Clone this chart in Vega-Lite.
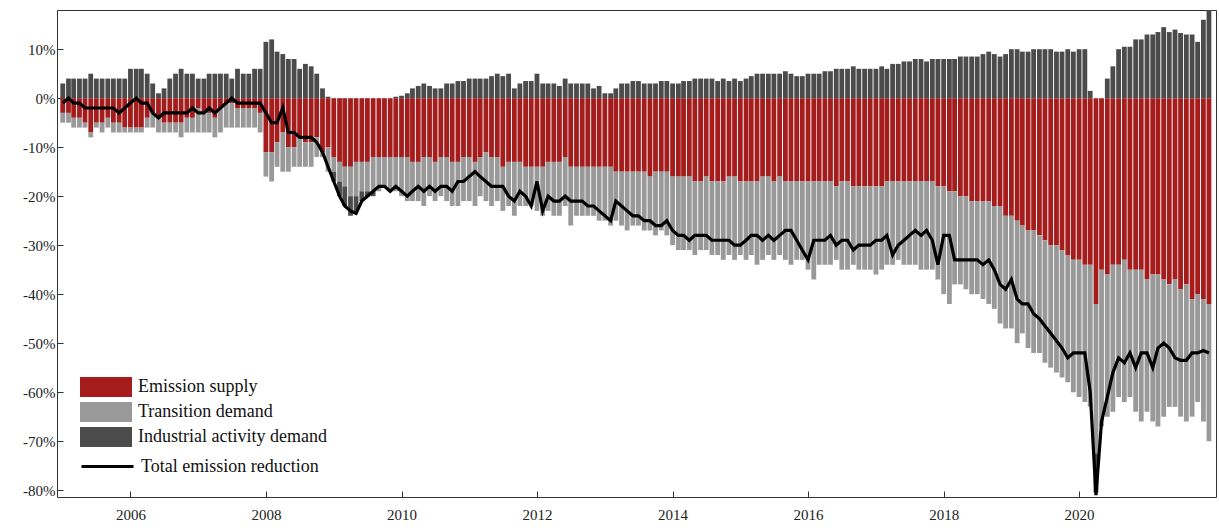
{"$schema":"https://vega.github.io/schema/vega-lite/v6.json","width":1159,"height":487,"autosize":{"type":"none"},"padding":{"left":57,"top":10,"right":3,"bottom":33},"config":{"font":"Liberation Serif","view":{"stroke":"#333","strokeWidth":1}},
"data":{"values":[
{"date":"2005-01-01","e1":-3,"e2":-2,"e3":3,"total":-1},{"date":"2005-02-01","e1":-3,"e2":-2,"e3":4,"total":0},{"date":"2005-03-01","e1":-4,"e2":-2,"e3":4,"total":-1},{"date":"2005-04-01","e1":-4,"e2":-2,"e3":4,"total":-1},{"date":"2005-05-01","e1":-5,"e2":-1,"e3":4,"total":-2},{"date":"2005-06-01","e1":-7,"e2":-1,"e3":5,"total":-2},{"date":"2005-07-01","e1":-5,"e2":-1,"e3":4,"total":-2},{"date":"2005-08-01","e1":-5,"e2":-2,"e3":4,"total":-2},{"date":"2005-09-01","e1":-4,"e2":-2,"e3":4,"total":-2},{"date":"2005-10-01","e1":-5,"e2":-2,"e3":4,"total":-2},{"date":"2005-11-01","e1":-5,"e2":-2,"e3":4,"total":-3},{"date":"2005-12-01","e1":-6,"e2":-1,"e3":4,"total":-2},
{"date":"2006-01-01","e1":-6,"e2":-1,"e3":6,"total":-1},{"date":"2006-02-01","e1":-6,"e2":-1,"e3":6,"total":0},{"date":"2006-03-01","e1":-6,"e2":-1,"e3":6,"total":-1},{"date":"2006-04-01","e1":-4,"e2":-2,"e3":5,"total":-1},{"date":"2006-05-01","e1":-3,"e2":-3,"e3":3,"total":-3},{"date":"2006-06-01","e1":-4,"e2":-3,"e3":1,"total":-4},{"date":"2006-07-01","e1":-5,"e2":-2,"e3":2,"total":-3},{"date":"2006-08-01","e1":-5,"e2":-2,"e3":4,"total":-3},{"date":"2006-09-01","e1":-5,"e2":-2,"e3":5,"total":-3},{"date":"2006-10-01","e1":-5,"e2":-3,"e3":6,"total":-3},{"date":"2006-11-01","e1":-4,"e2":-3,"e3":5,"total":-3},{"date":"2006-12-01","e1":-4,"e2":-3,"e3":5,"total":-2},
{"date":"2007-01-01","e1":-2,"e2":-5,"e3":4,"total":-3},{"date":"2007-02-01","e1":-3,"e2":-4,"e3":4,"total":-3},{"date":"2007-03-01","e1":-3,"e2":-4,"e3":5,"total":-2},{"date":"2007-04-01","e1":-4,"e2":-4,"e3":5,"total":-3},{"date":"2007-05-01","e1":-2,"e2":-5,"e3":5,"total":-2},{"date":"2007-06-01","e1":-1,"e2":-5,"e3":5,"total":-1},{"date":"2007-07-01","e1":-1,"e2":-5,"e3":4,"total":0},{"date":"2007-08-01","e1":-2,"e2":-4,"e3":6,"total":-1},{"date":"2007-09-01","e1":-2,"e2":-4,"e3":5,"total":-1},{"date":"2007-10-01","e1":-2,"e2":-4,"e3":5,"total":-1},{"date":"2007-11-01","e1":-2,"e2":-4,"e3":6,"total":-1},{"date":"2007-12-01","e1":-3,"e2":-4,"e3":6,"total":-1},
{"date":"2008-01-01","e1":-11,"e2":-5,"e3":11.5,"total":-3},{"date":"2008-02-01","e1":-11,"e2":-6,"e3":12,"total":-5},{"date":"2008-03-01","e1":-9,"e2":-5,"e3":9.5,"total":-5},{"date":"2008-04-01","e1":-7,"e2":-8,"e3":9,"total":-2},{"date":"2008-05-01","e1":-10,"e2":-5,"e3":8,"total":-7},{"date":"2008-06-01","e1":-10,"e2":-4,"e3":8,"total":-7},{"date":"2008-07-01","e1":-8,"e2":-6,"e3":6,"total":-8},{"date":"2008-08-01","e1":-9,"e2":-5,"e3":7,"total":-8},{"date":"2008-09-01","e1":-9,"e2":-5,"e3":6.5,"total":-8},{"date":"2008-10-01","e1":-8,"e2":-4,"e3":5,"total":-9},{"date":"2008-11-01","e1":-11,"e2":-1,"e3":2,"total":-11},{"date":"2008-12-01","e1":-10,"e2":-5,"e3":0.3,"total":-14},
{"date":"2009-01-01","e1":-12,"e2":-3,"e3":-2,"total":-17},{"date":"2009-02-01","e1":-13,"e2":-4,"e3":-3,"total":-20},{"date":"2009-03-01","e1":-14,"e2":-4,"e3":-4,"total":-22},{"date":"2009-04-01","e1":-14,"e2":-6,"e3":-4,"total":-23},{"date":"2009-05-01","e1":-13,"e2":-7,"e3":-3,"total":-23.5},{"date":"2009-06-01","e1":-13,"e2":-6,"e3":-2,"total":-21},{"date":"2009-07-01","e1":-13,"e2":-6,"e3":-1,"total":-20},{"date":"2009-08-01","e1":-12,"e2":-7,"e3":-1,"total":-19},{"date":"2009-09-01","e1":-12,"e2":-7,"e3":0,"total":-18},{"date":"2009-10-01","e1":-12,"e2":-6,"e3":0,"total":-18},{"date":"2009-11-01","e1":-12,"e2":-7,"e3":0,"total":-19},{"date":"2009-12-01","e1":-12,"e2":-7,"e3":0.3,"total":-18},
{"date":"2010-01-01","e1":-12,"e2":-8,"e3":0.5,"total":-19},{"date":"2010-02-01","e1":-12,"e2":-9,"e3":1,"total":-20},{"date":"2010-03-01","e1":-13,"e2":-8,"e3":2,"total":-19},{"date":"2010-04-01","e1":-13,"e2":-8,"e3":2.5,"total":-18},{"date":"2010-05-01","e1":-12,"e2":-10,"e3":3,"total":-19},{"date":"2010-06-01","e1":-12,"e2":-8,"e3":2.5,"total":-18},{"date":"2010-07-01","e1":-13,"e2":-8,"e3":2,"total":-19},{"date":"2010-08-01","e1":-12,"e2":-8,"e3":2,"total":-18},{"date":"2010-09-01","e1":-12,"e2":-9,"e3":3,"total":-18},{"date":"2010-10-01","e1":-13,"e2":-9,"e3":3,"total":-19},{"date":"2010-11-01","e1":-13,"e2":-9,"e3":3.5,"total":-17},{"date":"2010-12-01","e1":-12,"e2":-9,"e3":3.5,"total":-17},
{"date":"2011-01-01","e1":-12,"e2":-9,"e3":4,"total":-16},{"date":"2011-02-01","e1":-13,"e2":-9,"e3":4,"total":-15},{"date":"2011-03-01","e1":-12,"e2":-8,"e3":4,"total":-16},{"date":"2011-04-01","e1":-11,"e2":-10,"e3":4,"total":-17},{"date":"2011-05-01","e1":-12,"e2":-10,"e3":4.5,"total":-18},{"date":"2011-06-01","e1":-12,"e2":-9,"e3":5,"total":-18},{"date":"2011-07-01","e1":-14,"e2":-9,"e3":4.5,"total":-18},{"date":"2011-08-01","e1":-13,"e2":-9,"e3":5,"total":-20},{"date":"2011-09-01","e1":-13,"e2":-11,"e3":2,"total":-21},{"date":"2011-10-01","e1":-13,"e2":-9,"e3":3,"total":-19},{"date":"2011-11-01","e1":-14,"e2":-8,"e3":3.5,"total":-20},{"date":"2011-12-01","e1":-14,"e2":-8,"e3":3.5,"total":-22},
{"date":"2012-01-01","e1":-14,"e2":-9,"e3":5,"total":-17},{"date":"2012-02-01","e1":-14,"e2":-10,"e3":3,"total":-23},{"date":"2012-03-01","e1":-13,"e2":-10,"e3":3,"total":-20},{"date":"2012-04-01","e1":-13,"e2":-11,"e3":3,"total":-21},{"date":"2012-05-01","e1":-13,"e2":-11,"e3":2.5,"total":-21},{"date":"2012-06-01","e1":-12,"e2":-10,"e3":4,"total":-20},{"date":"2012-07-01","e1":-14,"e2":-12,"e3":3,"total":-21},{"date":"2012-08-01","e1":-14,"e2":-10,"e3":3,"total":-21},{"date":"2012-09-01","e1":-14,"e2":-10,"e3":3,"total":-21},{"date":"2012-10-01","e1":-14,"e2":-10,"e3":3,"total":-22},{"date":"2012-11-01","e1":-14,"e2":-10,"e3":2,"total":-22},{"date":"2012-12-01","e1":-14,"e2":-11,"e3":2.5,"total":-23},
{"date":"2013-01-01","e1":-14,"e2":-11,"e3":1,"total":-24},{"date":"2013-02-01","e1":-14,"e2":-12,"e3":1,"total":-25},{"date":"2013-03-01","e1":-15,"e2":-10,"e3":2,"total":-21},{"date":"2013-04-01","e1":-15,"e2":-11,"e3":3,"total":-22},{"date":"2013-05-01","e1":-15,"e2":-12,"e3":3,"total":-23},{"date":"2013-06-01","e1":-15,"e2":-11,"e3":3.5,"total":-24},{"date":"2013-07-01","e1":-15,"e2":-11,"e3":3.5,"total":-24},{"date":"2013-08-01","e1":-15,"e2":-12,"e3":3,"total":-25},{"date":"2013-09-01","e1":-16,"e2":-11,"e3":3,"total":-25},{"date":"2013-10-01","e1":-15,"e2":-13,"e3":3,"total":-26},{"date":"2013-11-01","e1":-15,"e2":-12,"e3":3.5,"total":-26},{"date":"2013-12-01","e1":-15,"e2":-13,"e3":3.5,"total":-25},
{"date":"2014-01-01","e1":-16,"e2":-14,"e3":3,"total":-27},{"date":"2014-02-01","e1":-16,"e2":-15,"e3":3,"total":-28},{"date":"2014-03-01","e1":-16,"e2":-15,"e3":3.5,"total":-28},{"date":"2014-04-01","e1":-16,"e2":-15,"e3":3.5,"total":-29},{"date":"2014-05-01","e1":-17,"e2":-15,"e3":4,"total":-28},{"date":"2014-06-01","e1":-17,"e2":-14,"e3":4,"total":-28},{"date":"2014-07-01","e1":-16,"e2":-15,"e3":4,"total":-28},{"date":"2014-08-01","e1":-17,"e2":-15,"e3":4,"total":-29},{"date":"2014-09-01","e1":-17,"e2":-15,"e3":3.5,"total":-29},{"date":"2014-10-01","e1":-17,"e2":-16,"e3":4,"total":-29},{"date":"2014-11-01","e1":-16,"e2":-16,"e3":3.5,"total":-29},{"date":"2014-12-01","e1":-16,"e2":-17,"e3":4,"total":-30},
{"date":"2015-01-01","e1":-17,"e2":-15,"e3":3.5,"total":-30},{"date":"2015-02-01","e1":-17,"e2":-16,"e3":4,"total":-29},{"date":"2015-03-01","e1":-17,"e2":-15,"e3":4.5,"total":-28},{"date":"2015-04-01","e1":-17,"e2":-17,"e3":5,"total":-28},{"date":"2015-05-01","e1":-16,"e2":-17,"e3":5,"total":-29},{"date":"2015-06-01","e1":-16,"e2":-16,"e3":5,"total":-28},{"date":"2015-07-01","e1":-17,"e2":-16,"e3":5,"total":-29},{"date":"2015-08-01","e1":-16,"e2":-16,"e3":5,"total":-28},{"date":"2015-09-01","e1":-17,"e2":-16,"e3":5.5,"total":-27},{"date":"2015-10-01","e1":-17,"e2":-17,"e3":5,"total":-27},{"date":"2015-11-01","e1":-17,"e2":-16,"e3":4.5,"total":-29},{"date":"2015-12-01","e1":-17,"e2":-16,"e3":4.5,"total":-31},
{"date":"2016-01-01","e1":-17,"e2":-18,"e3":5,"total":-33},{"date":"2016-02-01","e1":-17,"e2":-20,"e3":5,"total":-29},{"date":"2016-03-01","e1":-17,"e2":-17,"e3":5,"total":-29},{"date":"2016-04-01","e1":-17,"e2":-17,"e3":5.5,"total":-29},{"date":"2016-05-01","e1":-17,"e2":-17,"e3":5.5,"total":-28},{"date":"2016-06-01","e1":-18,"e2":-15,"e3":6,"total":-30},{"date":"2016-07-01","e1":-17,"e2":-18,"e3":6,"total":-29},{"date":"2016-08-01","e1":-17,"e2":-18,"e3":6,"total":-29},{"date":"2016-09-01","e1":-18,"e2":-16,"e3":6.5,"total":-31},{"date":"2016-10-01","e1":-18,"e2":-17,"e3":6,"total":-30},{"date":"2016-11-01","e1":-18,"e2":-17,"e3":6,"total":-30},{"date":"2016-12-01","e1":-18,"e2":-17,"e3":6,"total":-30},
{"date":"2017-01-01","e1":-18,"e2":-18,"e3":6,"total":-29},{"date":"2017-02-01","e1":-18,"e2":-17,"e3":6.5,"total":-29},{"date":"2017-03-01","e1":-17,"e2":-17,"e3":6,"total":-28},{"date":"2017-04-01","e1":-17,"e2":-17,"e3":7,"total":-32},{"date":"2017-05-01","e1":-17,"e2":-16,"e3":7,"total":-30},{"date":"2017-06-01","e1":-17,"e2":-17,"e3":7.5,"total":-29},{"date":"2017-07-01","e1":-17,"e2":-17,"e3":7.5,"total":-28},{"date":"2017-08-01","e1":-17,"e2":-17,"e3":8,"total":-27},{"date":"2017-09-01","e1":-17,"e2":-18,"e3":8,"total":-28},{"date":"2017-10-01","e1":-17,"e2":-18,"e3":7.5,"total":-27},{"date":"2017-11-01","e1":-17,"e2":-18,"e3":8,"total":-29},{"date":"2017-12-01","e1":-18,"e2":-19,"e3":8,"total":-34},
{"date":"2018-01-01","e1":-18,"e2":-22,"e3":8,"total":-28},{"date":"2018-02-01","e1":-19,"e2":-23,"e3":8,"total":-28},{"date":"2018-03-01","e1":-19,"e2":-19,"e3":8,"total":-33},{"date":"2018-04-01","e1":-20,"e2":-18,"e3":8.5,"total":-33},{"date":"2018-05-01","e1":-20,"e2":-19,"e3":8.5,"total":-33},{"date":"2018-06-01","e1":-21,"e2":-19,"e3":8.5,"total":-33},{"date":"2018-07-01","e1":-21,"e2":-19,"e3":8.5,"total":-33},{"date":"2018-08-01","e1":-21,"e2":-20,"e3":9,"total":-34},{"date":"2018-09-01","e1":-21,"e2":-21,"e3":9.5,"total":-33},{"date":"2018-10-01","e1":-22,"e2":-21,"e3":9,"total":-35},{"date":"2018-11-01","e1":-22,"e2":-24,"e3":8.5,"total":-38},{"date":"2018-12-01","e1":-24,"e2":-23,"e3":9,"total":-39},
{"date":"2019-01-01","e1":-24,"e2":-23,"e3":10,"total":-37},{"date":"2019-02-01","e1":-25,"e2":-25,"e3":10,"total":-41},{"date":"2019-03-01","e1":-26,"e2":-22,"e3":9.5,"total":-42},{"date":"2019-04-01","e1":-27,"e2":-24,"e3":9.5,"total":-42},{"date":"2019-05-01","e1":-27,"e2":-25,"e3":10,"total":-44},{"date":"2019-06-01","e1":-28,"e2":-24,"e3":10,"total":-45},{"date":"2019-07-01","e1":-29,"e2":-25,"e3":10,"total":-46.5},{"date":"2019-08-01","e1":-30,"e2":-25,"e3":10,"total":-48},{"date":"2019-09-01","e1":-30,"e2":-26,"e3":9.5,"total":-49.5},{"date":"2019-10-01","e1":-31,"e2":-26,"e3":9.5,"total":-51},{"date":"2019-11-01","e1":-32,"e2":-26,"e3":10,"total":-53},{"date":"2019-12-01","e1":-33,"e2":-27,"e3":9.5,"total":-52},
{"date":"2020-01-01","e1":-33,"e2":-28,"e3":10,"total":-52},{"date":"2020-02-01","e1":-34,"e2":-28,"e3":10,"total":-52},{"date":"2020-03-01","e1":-34,"e2":-29,"e3":1.5,"total":-60},{"date":"2020-04-01","e1":-42,"e2":-30.5,"e3":-8,"total":-81},{"date":"2020-05-01","e1":-35,"e2":-32,"e3":0,"total":-66},{"date":"2020-06-01","e1":-36,"e2":-29,"e3":4,"total":-61},{"date":"2020-07-01","e1":-34,"e2":-30,"e3":6.5,"total":-56},{"date":"2020-08-01","e1":-34,"e2":-27,"e3":10,"total":-53},{"date":"2020-09-01","e1":-33,"e2":-29,"e3":10.5,"total":-54},{"date":"2020-10-01","e1":-35,"e2":-26,"e3":10.5,"total":-52},{"date":"2020-11-01","e1":-35,"e2":-29,"e3":12,"total":-55},{"date":"2020-12-01","e1":-35,"e2":-31,"e3":12,"total":-52},
{"date":"2021-01-01","e1":-37,"e2":-27,"e3":13,"total":-52},{"date":"2021-02-01","e1":-36,"e2":-30,"e3":13,"total":-55},{"date":"2021-03-01","e1":-36,"e2":-31,"e3":13.5,"total":-51},{"date":"2021-04-01","e1":-37,"e2":-28,"e3":14.5,"total":-50},{"date":"2021-05-01","e1":-38,"e2":-25,"e3":13.5,"total":-51},{"date":"2021-06-01","e1":-37,"e2":-26,"e3":14,"total":-53},{"date":"2021-07-01","e1":-39,"e2":-26,"e3":13.3,"total":-53.5},{"date":"2021-08-01","e1":-38,"e2":-28,"e3":13,"total":-53.5},{"date":"2021-09-01","e1":-41,"e2":-24,"e3":13,"total":-52},{"date":"2021-10-01","e1":-40,"e2":-22,"e3":11.5,"total":-52},{"date":"2021-11-01","e1":-41,"e2":-25,"e3":16,"total":-51.5},{"date":"2021-12-01","e1":-42,"e2":-28,"e3":18,"total":-52}
]},
"encoding":{"x":{"field":"date","type":"temporal","scale":{"domain":["2004-12-28","2021-12-12"]},"axis":{"title":null,"format":"%Y","values":[{"year":2006,"month":1,"date":1},{"year":2008,"month":1,"date":1},{"year":2010,"month":1,"date":1},{"year":2012,"month":1,"date":1},{"year":2014,"month":1,"date":1},{"year":2016,"month":1,"date":1},{"year":2018,"month":1,"date":1},{"year":2020,"month":1,"date":1}],"grid":false,"tickSize":-6,"tickColor":"#333","labelPadding":16,"labelFontSize":15,"labelColor":"#222","domain":false}}},
"layer":[
{"transform":[{"fold":["e1","e2","e3"],"as":["component","pct"]}],
"mark":{"type":"bar","width":4.8,"clip":true},
"encoding":{"y":{"field":"pct","type":"quantitative","stack":"zero","scale":{"domain":[-81.4,18],"nice":false,"zero":false},"axis":{"title":null,"values":[-80,-70,-60,-50,-40,-30,-20,-10,0,10],"labelExpr":"datum.value + '%'","grid":false,"tickSize":-6,"tickColor":"#333","labelPadding":8,"labelFontSize":15,"labelColor":"#222","domain":false}},
"order":{"field":"component","sort":"ascending"},
"color":{"field":"component","type":"nominal","scale":{"domain":["e1","e2","e3"],"range":["#a51c1c","#999999","#4b4b4b"]},"legend":{"title":null,"orient":"none","legendX":39,"legendY":367,"labelExpr":"datum.value == 'e1' ? 'Emission supply' : datum.value == 'e2' ? 'Transition demand' : 'Industrial activity demand'","labelLimit":400,"symbolType":"M-2.6,-1H2.6V1H-2.6Z","symbolSize":400,"symbolOpacity":1,"symbolStrokeWidth":0,"labelFontSize":18,"labelColor":"#111","rowPadding":5,"labelOffset":22}}}},
{"mark":{"type":"line","color":"black","strokeWidth":3.2,"clip":true},
"encoding":{"y":{"field":"total","type":"quantitative"},
"stroke":{"datum":"Total emission reduction","type":"nominal","scale":{"range":["black"]},"legend":{"title":null,"orient":"none","legendX":23,"legendY":429,"labelLimit":400,"symbolType":"stroke","symbolSize":2704,"symbolStrokeWidth":3,"labelFontSize":18,"labelColor":"#111","labelOffset":6}}}}
]}
